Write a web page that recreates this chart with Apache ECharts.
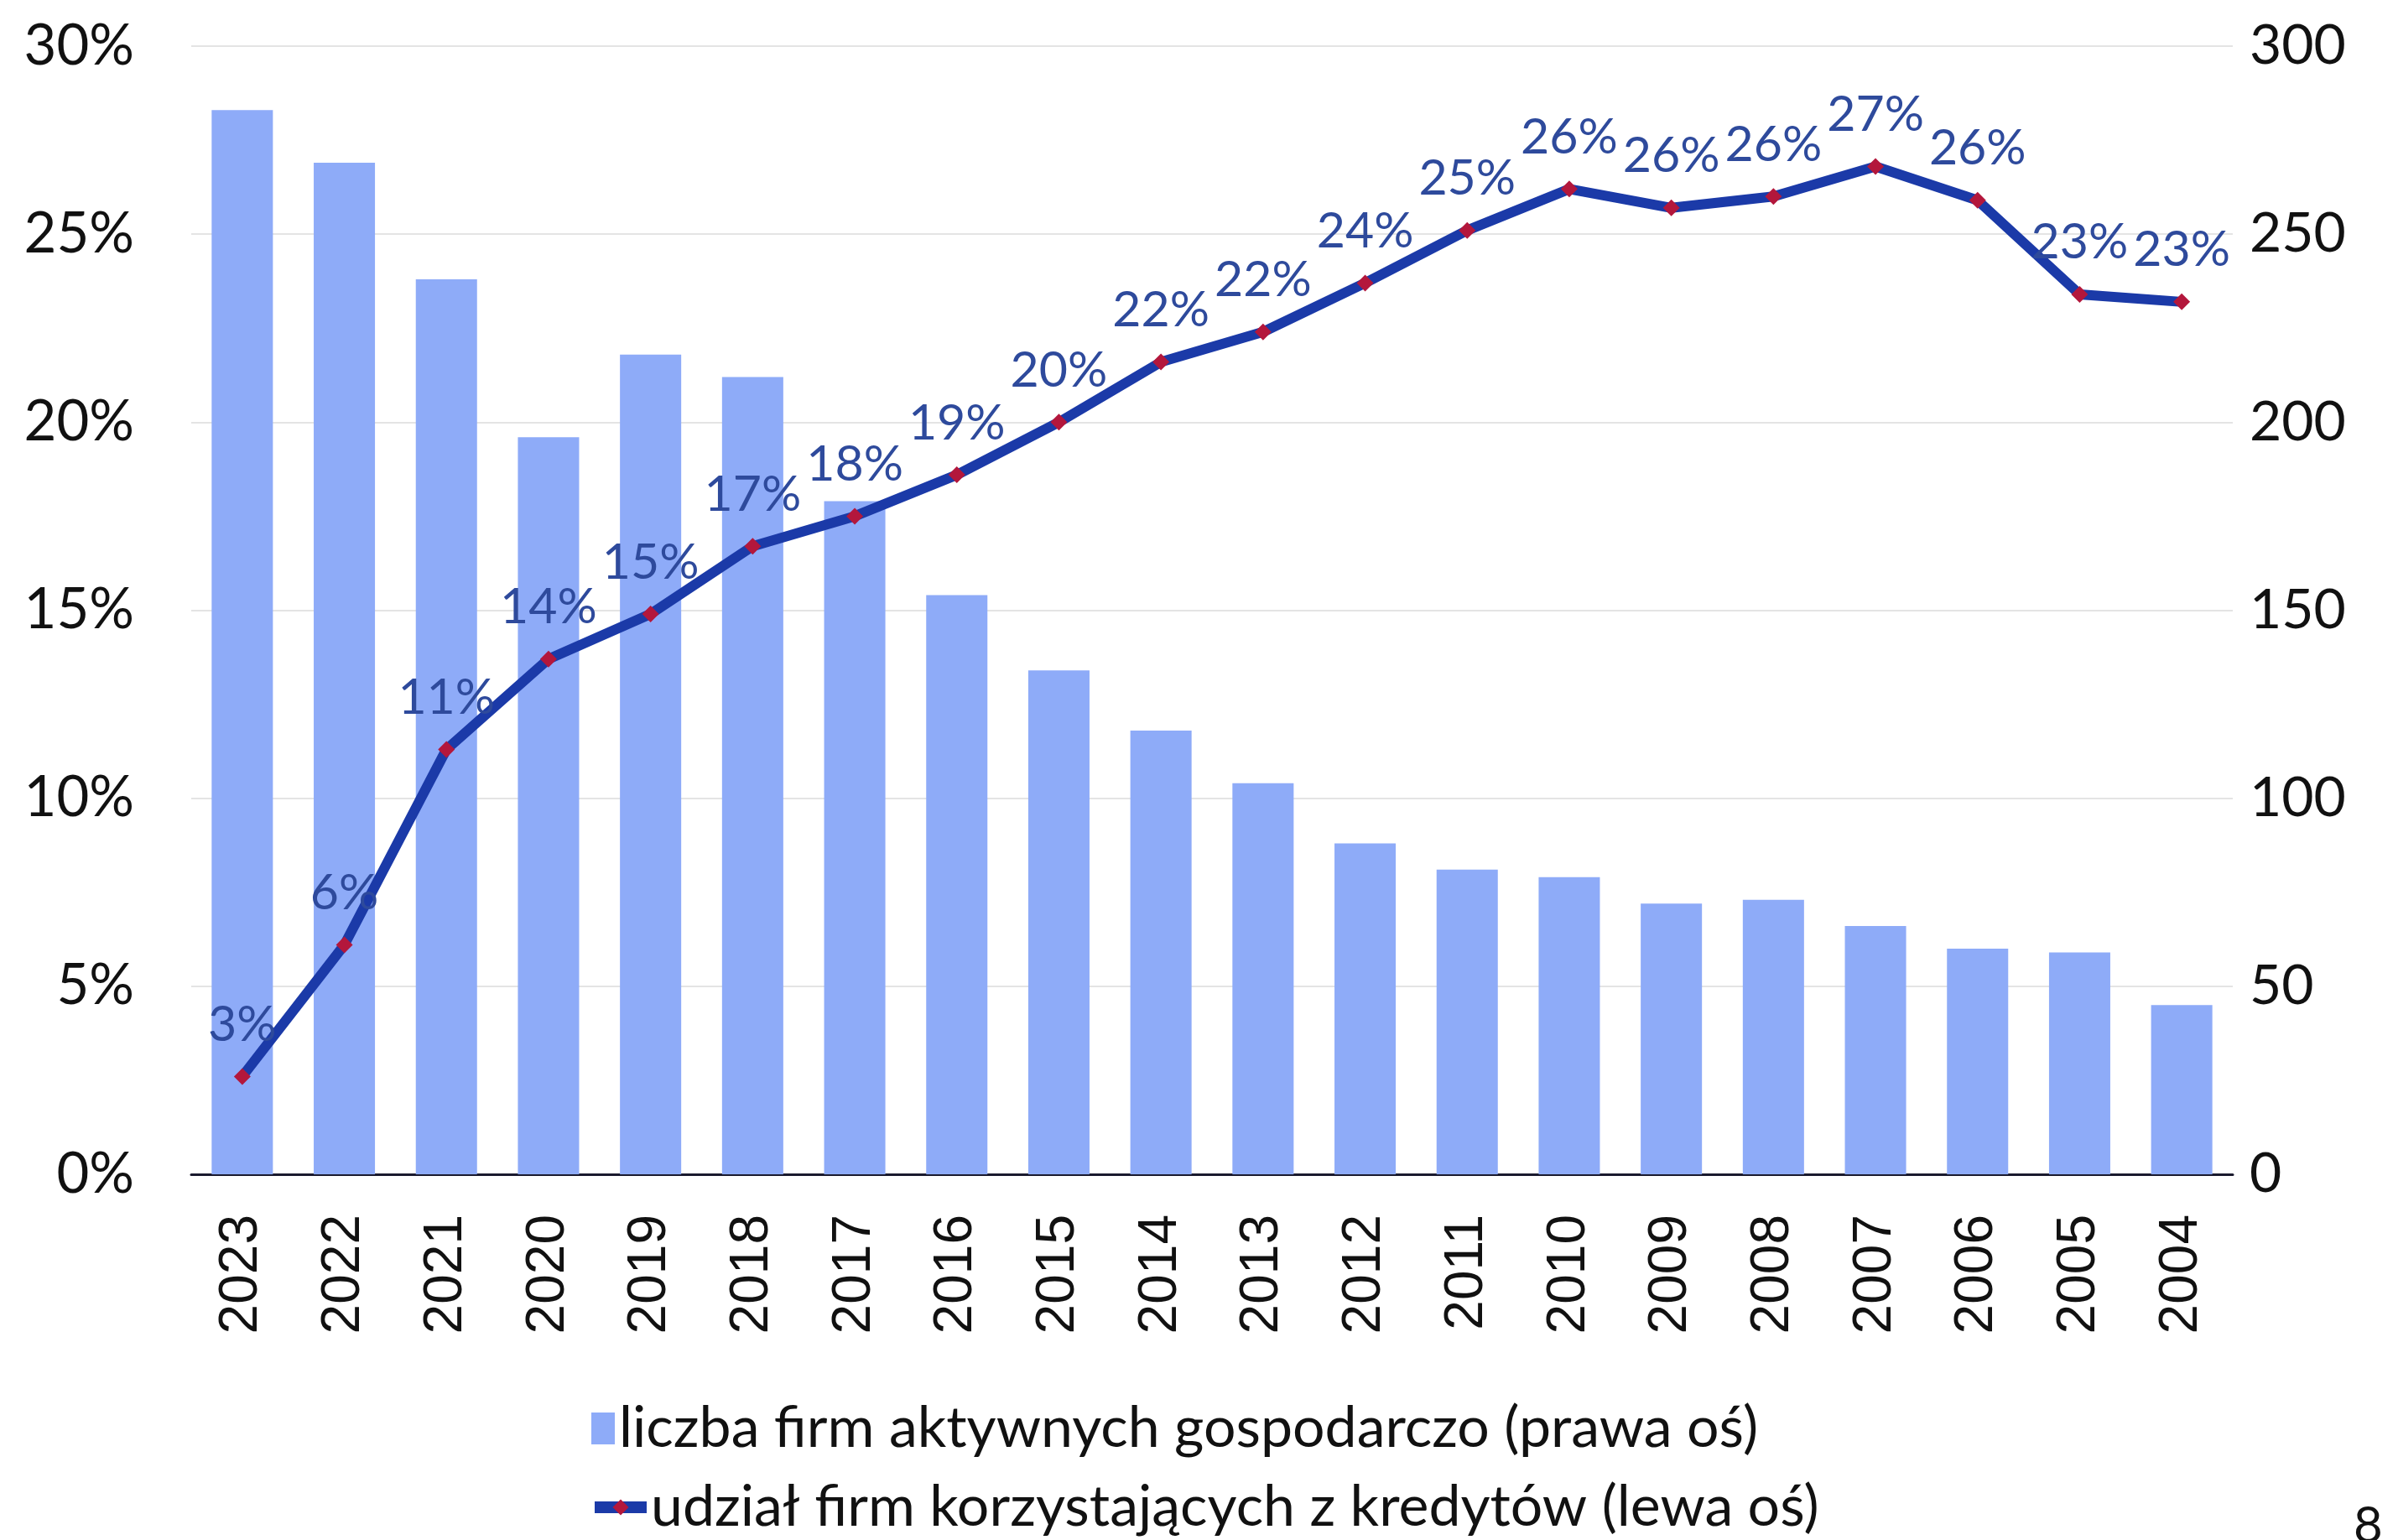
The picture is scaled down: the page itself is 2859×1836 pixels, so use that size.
<!DOCTYPE html>
<html>
<head>
<meta charset="utf-8">
<script src="https://cdn.jsdelivr.net/npm/echarts@6/dist/echarts.min.js"></script>
<style>
  html, body { margin: 0; padding: 0; background: #fff; }
  #chart { width: 2859px; height: 1836px; }
</style>
</head>
<body>
<div id="chart"></div>
<script>
// lata (oś X, od najnowszego)
const years = ['2023', '2022', '2021', '2020', '2019', '2018', '2017', '2016', '2015', '2014',
    '2013', '2012', '2011', '2010', '2009', '2008', '2007', '2006', '2005', '2004'];
// liczba firm aktywnych gospodarczo (prawa oś)
const activeFirms = [283, 269, 238, 196, 218, 212, 179, 154, 134, 118,
    104, 88, 81, 79, 72, 73, 66, 60, 59, 45];
// udział firm korzystających z kredytów, % (lewa oś)
const creditShare = [2.6, 6.1, 11.3, 13.7, 14.9, 16.7, 17.5, 18.6, 20.0, 21.6,
    22.4, 23.7, 25.1, 26.2, 25.7, 26.0, 26.8, 25.9, 23.4, 23.2];
const leftTicks = [0, 5, 10, 15, 20, 25, 30];
const rightTicks = [0, 50, 100, 150, 200, 250, 300];

const barName = 'liczba firm aktywnych gospodarczo (prawa oś)';
const lineName = 'udział firm korzystających z kredytów (lewa oś)';

const txtFont = 'Lato';
const barColor = '#8eabf8';
const lineColor = '#1b3aa8';
const markColor = '#b3173c';

let myChart = echarts.init(document.getElementById('chart'));
myChart.setOption({
    animation: false,
    backgroundColor: '#fff',
    grid: {
        left: 228,
        right: 197,
        top: 55,
        bottom: 436
    },
    legend: [{
        data: [{ name: barName, icon: 'rect' }],
        left: 700,
        top: 1664,
        itemWidth: 28,
        itemHeight: 38,
        itemGap: 0,
        textStyle: { fontFamily: txtFont, fontSize: 68, color: '#111' }
    }, {
        data: [{ name: lineName }],
        left: 697,
        top: 1758,
        itemWidth: 62,
        itemHeight: 24,
        lineStyle: { width: 14, color: lineColor },
        textStyle: { fontFamily: txtFont, fontSize: 68, color: '#111' }
    }],
    graphic: [{
        type: 'text',
        left: 2806,
        top: 1790,
        style: { text: '8', fontFamily: txtFont, fontSize: 60, fill: '#111' }
    }],
    xAxis: {
        type: 'category',
        data: years,
        axisTick: { show: false },
        axisLine: { lineStyle: { color: '#1a1a2e', width: 3 } },
        axisLabel: {
            rotate: 90,
            margin: 48,
            fontFamily: 'Liberation Sans',
            fontSize: 64,
            color: '#111'
        }
    },
    yAxis: [{
        type: 'value',
        min: 0,
        max: 30,
        interval: 5,
        position: 'left',
        axisLine: { show: false },
        axisTick: { show: false },
        splitLine: { lineStyle: { color: '#e4e4e4', width: 2 } },
        axisLabel: {
            margin: 68,
            fontFamily: txtFont,
            fontSize: 67,
            color: '#111',
            formatter: (v) => leftTicks.includes(v) ? v + '%' : ''
        }
    }, {
        type: 'value',
        min: 0,
        max: 300,
        interval: 50,
        position: 'right',
        axisLine: { show: false },
        axisTick: { show: false },
        splitLine: { show: false },
        axisLabel: {
            margin: 20,
            fontFamily: txtFont,
            fontSize: 66,
            color: '#111',
            formatter: (v) => rightTicks.includes(v) ? String(v) : ''
        }
    }],
    series: [{
        name: barName,
        type: 'bar',
        yAxisIndex: 1,
        data: activeFirms,
        barCategoryGap: '40%',
        itemStyle: { color: barColor }
    }, {
        name: lineName,
        type: 'line',
        yAxisIndex: 0,
        data: creditShare,
        symbol: 'diamond',
        symbolSize: 20,
        lineStyle: { color: lineColor, width: 12 },
        itemStyle: { color: markColor, borderWidth: 0 },
        z: 5,
        label: {
            show: true,
            position: 'top',
            distance: 22,
            fontFamily: txtFont,
            fontSize: 59,
            color: '#2e4a9c',
            formatter: (p) => Math.round(p.value) + '%'
        }
    }]
});
</script>
</body>
</html>
